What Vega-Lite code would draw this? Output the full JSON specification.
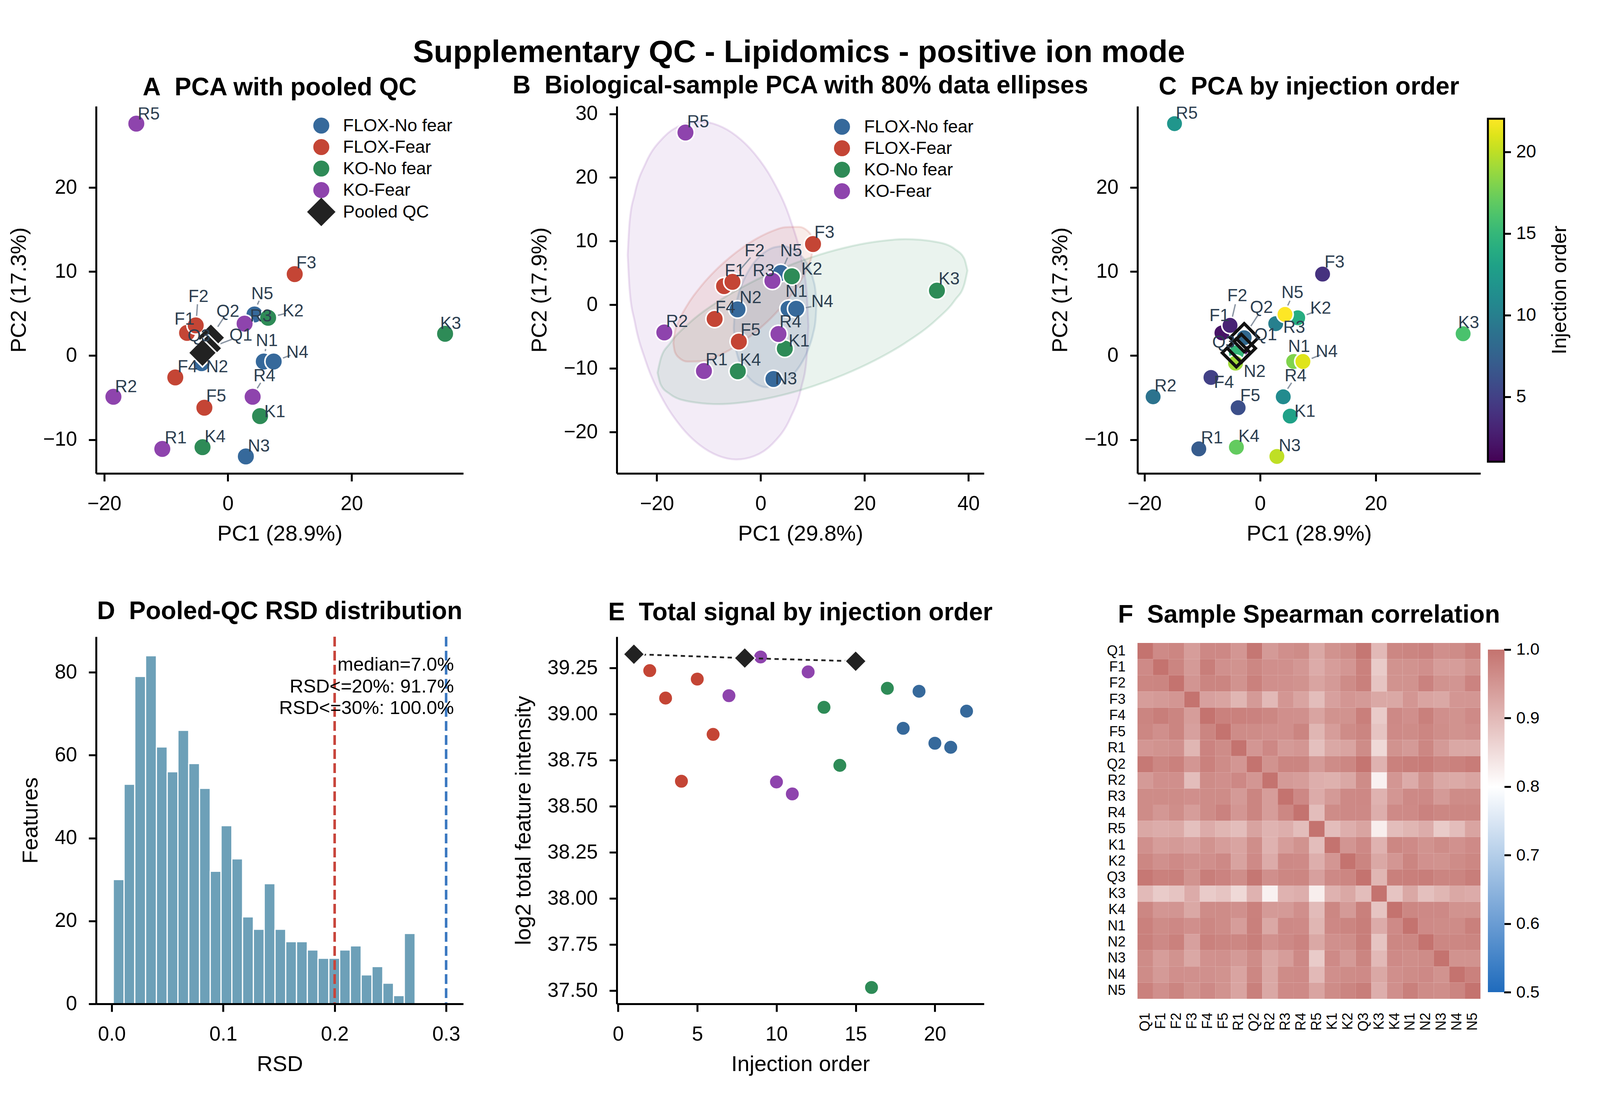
{
"$schema":"https://vega.github.io/schema/vega-lite/v6.json",
"description":"Supplementary QC panels for lipidomics positive ion mode",
"padding":{"left":20,"top":95,"right":100,"bottom":127},
"background":"white",
"title":{"text":"Supplementary QC - Lipidomics - positive ion mode","fontSize":80.5,"fontWeight":"bold","anchor":"middle","baseline":"alphabetic","offset":-52,"dx":26,"color":"black"},
"columns":3,
"bounds":"flush",
"spacing":{"row":418,"column":393},
"config":{
"font":"Liberation Sans",
"view":{"stroke":null},
"axis":{"grid":false,"domainColor":"black","domainWidth":5,"tickColor":"black","tickWidth":5,"labelFontSize":51.5,"labelColor":"black","titleFontSize":56,"titleColor":"black","titleFontWeight":"normal","labelFlush":false,"labelOverlap":false},
"axisX":{"titlePadding":24,"labelPadding":32,"tickSize":20},
"axisY":{"titlePadding":32,"labelPadding":30,"tickSize":19},
"legend":{"labelFontSize":45,"labelColor":"black","labelLimit":1000,"padding":0,"symbolStrokeColor":"white","symbolStrokeWidth":4,"symbolOpacity":1},
"title":{"fontSize":64,"fontWeight":"bold","anchor":"middle","baseline":"alphabetic","color":"black"}
},
"datasets":{
"pcaA":[
{"sample":"N1","group":"FLOX-No fear","pc1":5.8,"pc2":-0.7,"label_x":4.52,"label_y":1.12},
{"sample":"N2","group":"FLOX-No fear","pc1":-4.25,"pc2":-0.9,"label_x":-3.52,"label_y":-2.0},
{"sample":"N3","group":"FLOX-No fear","pc1":2.9,"pc2":-12.0,"label_x":3.22,"label_y":-11.42},
{"sample":"N4","group":"FLOX-No fear","pc1":7.4,"pc2":-0.7,"label_x":9.45,"label_y":-0.28},
{"sample":"N5","group":"FLOX-No fear","pc1":4.3,"pc2":4.9,"label_x":3.77,"label_y":6.73},
{"sample":"F1","group":"FLOX-Fear","pc1":-6.6,"pc2":2.7,"label_x":-8.64,"label_y":3.69},
{"sample":"F2","group":"FLOX-Fear","pc1":-5.2,"pc2":3.6,"label_x":-6.38,"label_y":6.37},
{"sample":"F3","group":"FLOX-Fear","pc1":10.8,"pc2":9.7,"label_x":11.05,"label_y":10.4},
{"sample":"F4","group":"FLOX-Fear","pc1":-8.5,"pc2":-2.6,"label_x":-8.14,"label_y":-2.0},
{"sample":"F5","group":"FLOX-Fear","pc1":-3.8,"pc2":-6.2,"label_x":-3.52,"label_y":-5.49},
{"sample":"K1","group":"KO-No fear","pc1":5.2,"pc2":-7.2,"label_x":5.88,"label_y":-7.33},
{"sample":"K2","group":"KO-No fear","pc1":6.5,"pc2":4.5,"label_x":8.84,"label_y":4.65},
{"sample":"K3","group":"KO-No fear","pc1":35.1,"pc2":2.6,"label_x":34.3,"label_y":3.2},
{"sample":"K4","group":"KO-No fear","pc1":-4.1,"pc2":-10.9,"label_x":-3.77,"label_y":-10.3},
{"sample":"R1","group":"KO-Fear","pc1":-10.6,"pc2":-11.1,"label_x":-10.2,"label_y":-10.46},
{"sample":"R2","group":"KO-Fear","pc1":-18.5,"pc2":-4.9,"label_x":-18.24,"label_y":-4.33},
{"sample":"R3","group":"KO-Fear","pc1":2.7,"pc2":3.8,"label_x":3.57,"label_y":4.05},
{"sample":"R4","group":"KO-Fear","pc1":4.0,"pc2":-4.9,"label_x":4.12,"label_y":-3.05},
{"sample":"R5","group":"KO-Fear","pc1":-14.8,"pc2":27.6,"label_x":-14.57,"label_y":28.1},
{"sample":"Q2","group":"Pooled QC","pc1":-2.75,"pc2":2.13,"label_x":-1.86,"label_y":4.61},
{"sample":"Q1","group":"Pooled QC","pc1":-3.24,"pc2":0.87,"label_x":0.25,"label_y":1.76},
{"sample":"Q3","group":"Pooled QC","pc1":-4.11,"pc2":0.33,"label_x":-6.53,"label_y":1.68}
],
"leadA":[
{"sample":"F2","x1":-4.92,"y1":6.11,"x2":-5.06,"y2":4.67},
{"sample":"Q2","x1":-0.67,"y1":4.51,"x2":-1.64,"y2":3.43},
{"sample":"Q1","x1":0.69,"y1":1.95,"x2":-1.23,"y2":1.41},
{"sample":"N5","x1":5.05,"y1":6.53,"x2":4.78,"y2":6.07},
{"sample":"K2","x1":9.4,"y1":5.03,"x2":8.09,"y2":4.79},
{"sample":"N1","x1":6.1,"y1":0.79,"x2":6.04,"y2":0.53},
{"sample":"N4","x1":10.11,"y1":0.05,"x2":8.9,"y2":-0.29},
{"sample":"R4","x1":5.29,"y1":-3.24,"x2":4.74,"y2":-3.89}
],
"pcaB":[
{"sample":"N1","group":"FLOX-No fear","pc1":5.37,"pc2":-0.63,"label_x":4.78,"label_y":1.25},
{"sample":"N2","group":"FLOX-No fear","pc1":-4.46,"pc2":-0.72,"label_x":-4.07,"label_y":0.29},
{"sample":"N3","group":"FLOX-No fear","pc1":2.46,"pc2":-11.66,"label_x":2.78,"label_y":-12.48},
{"sample":"N4","group":"FLOX-No fear","pc1":6.85,"pc2":-0.63,"label_x":9.76,"label_y":-0.34},
{"sample":"N5","group":"FLOX-No fear","pc1":3.88,"pc2":5.0,"label_x":3.75,"label_y":7.61},
{"sample":"F1","group":"FLOX-Fear","pc1":-7.05,"pc2":2.94,"label_x":-6.92,"label_y":4.48},
{"sample":"F2","group":"FLOX-Fear","pc1":-5.43,"pc2":3.61,"label_x":-3.1,"label_y":7.61},
{"sample":"F3","group":"FLOX-Fear","pc1":10.08,"pc2":9.54,"label_x":10.34,"label_y":10.5},
{"sample":"F4","group":"FLOX-Fear","pc1":-8.86,"pc2":-2.22,"label_x":-8.73,"label_y":-1.3},
{"sample":"F5","group":"FLOX-Fear","pc1":-4.2,"pc2":-5.78,"label_x":-3.88,"label_y":-4.82},
{"sample":"K1","group":"KO-No fear","pc1":4.65,"pc2":-6.89,"label_x":5.37,"label_y":-6.55},
{"sample":"K2","group":"KO-No fear","pc1":6.01,"pc2":4.48,"label_x":7.82,"label_y":4.72},
{"sample":"K3","group":"KO-No fear","pc1":33.94,"pc2":2.22,"label_x":34.26,"label_y":3.18},
{"sample":"K4","group":"KO-No fear","pc1":-4.4,"pc2":-10.45,"label_x":-4.0,"label_y":-9.54},
{"sample":"R1","group":"KO-Fear","pc1":-10.92,"pc2":-10.4,"label_x":-10.6,"label_y":-9.49},
{"sample":"R2","group":"KO-Fear","pc1":-18.55,"pc2":-4.34,"label_x":-18.23,"label_y":-3.47},
{"sample":"R3","group":"KO-Fear","pc1":2.26,"pc2":3.76,"label_x":-1.55,"label_y":4.48},
{"sample":"R4","group":"KO-Fear","pc1":3.43,"pc2":-4.58,"label_x":3.62,"label_y":-3.56},
{"sample":"R5","group":"KO-Fear","pc1":-14.48,"pc2":27.07,"label_x":-14.16,"label_y":27.89}
],
"leadB":[
{"sample":"F2","x1":-1.94,"y1":7.42,"x2":-4.14,"y2":5.35},
{"sample":"N5","x1":5.17,"y1":7.42,"x2":4.52,"y2":6.17},
{"sample":"N4","x1":9.76,"y1":-0.29,"x2":8.53,"y2":-0.48}
],
"ellipses":[
{"group":"KO-Fear","x":-25.6,"lo":7.83,"hi":7.83},{"group":"KO-Fear","x":-25.25,"lo":2.55,"hi":12.89},{"group":"KO-Fear","x":-24.21,"lo":-2.79,"hi":17.55},{"group":"KO-Fear","x":-22.12,"lo":-8.87,"hi":22.29},{"group":"KO-Fear","x":-18.64,"lo":-15.17,"hi":26.37},{"group":"KO-Fear","x":-15.16,"lo":-19.31,"hi":28.27},{"group":"KO-Fear","x":-11.68,"lo":-22.07,"hi":28.81},{"group":"KO-Fear","x":-8.2,"lo":-23.71,"hi":28.21},{"group":"KO-Fear","x":-4.72,"lo":-24.31,"hi":26.57},{"group":"KO-Fear","x":-1.24,"lo":-23.77,"hi":23.81},{"group":"KO-Fear","x":2.24,"lo":-21.87,"hi":19.67},{"group":"KO-Fear","x":5.72,"lo":-17.79,"hi":13.37},{"group":"KO-Fear","x":7.81,"lo":-13.05,"hi":7.29},{"group":"KO-Fear","x":8.85,"lo":-8.39,"hi":1.95},{"group":"KO-Fear","x":9.2,"lo":-3.33,"hi":-3.33},
{"group":"KO-No fear","x":-19.85,"lo":-10.68,"hi":-10.68},{"group":"KO-No fear","x":-19.25,"lo":-12.54,"hi":-8.5},{"group":"KO-No fear","x":-17.46,"lo":-14.03,"hi":-6.05},{"group":"KO-No fear","x":-13.88,"lo":-15.17,"hi":-2.97},{"group":"KO-No fear","x":-7.92,"lo":-15.61,"hi":0.67},{"group":"KO-No fear","x":-1.95,"lo":-15.18,"hi":3.46},{"group":"KO-No fear","x":4.01,"lo":-14.22,"hi":5.7},{"group":"KO-No fear","x":9.98,"lo":-12.82,"hi":7.52},{"group":"KO-No fear","x":15.95,"lo":-11.0,"hi":8.92},{"group":"KO-No fear","x":21.91,"lo":-8.76,"hi":9.88},{"group":"KO-No fear","x":27.88,"lo":-5.97,"hi":10.31},{"group":"KO-No fear","x":33.84,"lo":-2.33,"hi":9.87},{"group":"KO-No fear","x":37.42,"lo":0.75,"hi":8.73},{"group":"KO-No fear","x":39.21,"lo":3.2,"hi":7.24},{"group":"KO-No fear","x":39.81,"lo":5.38,"hi":5.38},
{"group":"FLOX-Fear","x":-16.81,"lo":-6.02,"hi":-6.02},{"group":"FLOX-Fear","x":-16.54,"lo":-7.34,"hi":-4.4},{"group":"FLOX-Fear","x":-15.73,"lo":-8.31,"hi":-2.51},{"group":"FLOX-Fear","x":-14.12,"lo":-8.92,"hi":-0.04},{"group":"FLOX-Fear","x":-11.43,"lo":-8.87,"hi":2.97},{"group":"FLOX-Fear","x":-8.74,"lo":-8.19,"hi":5.37},{"group":"FLOX-Fear","x":-6.05,"lo":-7.13,"hi":7.37},{"group":"FLOX-Fear","x":-3.36,"lo":-5.74,"hi":9.06},{"group":"FLOX-Fear","x":-0.67,"lo":-4.05,"hi":10.45},{"group":"FLOX-Fear","x":2.02,"lo":-2.05,"hi":11.51},{"group":"FLOX-Fear","x":4.71,"lo":0.35,"hi":12.19},{"group":"FLOX-Fear","x":7.4,"lo":3.36,"hi":12.24},{"group":"FLOX-Fear","x":9.01,"lo":5.83,"hi":11.63},{"group":"FLOX-Fear","x":9.82,"lo":7.72,"hi":10.66},{"group":"FLOX-Fear","x":10.09,"lo":9.34,"hi":9.34},
{"group":"FLOX-No fear","x":-5.17,"lo":-3.65,"hi":-3.65},{"group":"FLOX-No fear","x":-5.01,"lo":-5.79,"hi":-1.43},{"group":"FLOX-No fear","x":-4.53,"lo":-7.8,"hi":0.78},{"group":"FLOX-No fear","x":-3.58,"lo":-9.86,"hi":3.26},{"group":"FLOX-No fear","x":-1.99,"lo":-11.69,"hi":5.81},{"group":"FLOX-No fear","x":-0.4,"lo":-12.62,"hi":7.44},{"group":"FLOX-No fear","x":1.19,"lo":-12.95,"hi":8.49},{"group":"FLOX-No fear","x":2.78,"lo":-12.82,"hi":9.06},{"group":"FLOX-No fear","x":4.37,"lo":-12.25,"hi":9.19},{"group":"FLOX-No fear","x":5.96,"lo":-11.2,"hi":8.86},{"group":"FLOX-No fear","x":7.55,"lo":-9.57,"hi":7.93},{"group":"FLOX-No fear","x":9.14,"lo":-7.02,"hi":6.1},{"group":"FLOX-No fear","x":10.09,"lo":-4.54,"hi":4.04},{"group":"FLOX-No fear","x":10.57,"lo":-2.33,"hi":2.03},{"group":"FLOX-No fear","x":10.73,"lo":-0.11,"hi":-0.11}
],
"pcaC":[
{"sample":"Q1","order":1,"pc1":-3.24,"pc2":0.87,"label_x":-1.03,"label_y":1.82},
{"sample":"F1","order":2,"pc1":-6.6,"pc2":2.7,"label_x":-8.77,"label_y":4.09},
{"sample":"F2","order":3,"pc1":-5.2,"pc2":3.6,"label_x":-5.69,"label_y":6.5},
{"sample":"F3","order":4,"pc1":10.8,"pc2":9.7,"label_x":11.13,"label_y":10.47},
{"sample":"F4","order":5,"pc1":-8.5,"pc2":-2.6,"label_x":-7.99,"label_y":-3.83},
{"sample":"F5","order":6,"pc1":-3.8,"pc2":-6.2,"label_x":-3.45,"label_y":-5.44},
{"sample":"R1","order":7,"pc1":-10.6,"pc2":-11.1,"label_x":-10.22,"label_y":-10.44},
{"sample":"Q2","order":8,"pc1":-2.75,"pc2":2.13,"label_x":-1.75,"label_y":5.07},
{"sample":"R2","order":9,"pc1":-18.5,"pc2":-4.9,"label_x":-18.27,"label_y":-4.24},
{"sample":"R3","order":10,"pc1":2.7,"pc2":3.8,"label_x":3.99,"label_y":2.7},
{"sample":"R4","order":11,"pc1":4.0,"pc2":-4.9,"label_x":4.23,"label_y":-3.03},
{"sample":"R5","order":12,"pc1":-14.8,"pc2":27.6,"label_x":-14.58,"label_y":28.2},
{"sample":"K1","order":13,"pc1":5.2,"pc2":-7.2,"label_x":5.93,"label_y":-7.27},
{"sample":"K2","order":14,"pc1":6.5,"pc2":4.5,"label_x":8.65,"label_y":5.0},
{"sample":"Q3","order":15,"pc1":-4.11,"pc2":0.33,"label_x":-8.29,"label_y":0.95},
{"sample":"K3","order":16,"pc1":35.1,"pc2":2.6,"label_x":34.24,"label_y":3.29},
{"sample":"K4","order":17,"pc1":-4.1,"pc2":-10.9,"label_x":-3.75,"label_y":-10.26},
{"sample":"N1","order":18,"pc1":5.8,"pc2":-0.7,"label_x":4.84,"label_y":0.44},
{"sample":"N2","order":19,"pc1":-4.25,"pc2":-0.9,"label_x":-2.84,"label_y":-2.56},
{"sample":"N3","order":20,"pc1":2.9,"pc2":-12.0,"label_x":3.21,"label_y":-11.36},
{"sample":"N4","order":21,"pc1":7.4,"pc2":-0.7,"label_x":9.62,"label_y":-0.18},
{"sample":"N5","order":22,"pc1":4.3,"pc2":4.9,"label_x":3.69,"label_y":6.83}
],
"leadC":[
{"sample":"F2","x1":-4.28,"y1":6.11,"x2":-4.8,"y2":4.59},
{"sample":"Q2","x1":-0.4,"y1":4.78,"x2":-1.6,"y2":3.51},
{"sample":"N5","x1":5.16,"y1":6.53,"x2":4.78,"y2":5.96},
{"sample":"K2","x1":9.29,"y1":5.18,"x2":8.05,"y2":4.87},
{"sample":"N4","x1":10.39,"y1":0.07,"x2":8.92,"y2":-0.34},
{"sample":"R4","x1":5.44,"y1":-3.24,"x2":4.76,"y2":-3.94}
],
"hist":[
{"bin_start":0.0014,"bin_end":0.0111,"count":30},{"bin_start":0.0111,"bin_end":0.0207,"count":53},{"bin_start":0.0207,"bin_end":0.0304,"count":79},{"bin_start":0.0304,"bin_end":0.0401,"count":84},{"bin_start":0.0401,"bin_end":0.0498,"count":62},{"bin_start":0.0498,"bin_end":0.0594,"count":56},{"bin_start":0.0594,"bin_end":0.0691,"count":66},{"bin_start":0.0691,"bin_end":0.0788,"count":58},{"bin_start":0.0788,"bin_end":0.0884,"count":52},{"bin_start":0.0884,"bin_end":0.0981,"count":32},{"bin_start":0.0981,"bin_end":0.1078,"count":43},{"bin_start":0.1078,"bin_end":0.1174,"count":35},{"bin_start":0.1174,"bin_end":0.1271,"count":21},{"bin_start":0.1271,"bin_end":0.1368,"count":18},{"bin_start":0.1368,"bin_end":0.1465,"count":29},{"bin_start":0.1465,"bin_end":0.1561,"count":18},{"bin_start":0.1561,"bin_end":0.1658,"count":15},{"bin_start":0.1658,"bin_end":0.1755,"count":15},{"bin_start":0.1755,"bin_end":0.1851,"count":13},{"bin_start":0.1851,"bin_end":0.1948,"count":11},{"bin_start":0.1948,"bin_end":0.2045,"count":11},{"bin_start":0.2045,"bin_end":0.2141,"count":13},{"bin_start":0.2141,"bin_end":0.2238,"count":14},{"bin_start":0.2238,"bin_end":0.2335,"count":7},{"bin_start":0.2335,"bin_end":0.2432,"count":9},{"bin_start":0.2432,"bin_end":0.2528,"count":5},{"bin_start":0.2528,"bin_end":0.2625,"count":2},{"bin_start":0.2625,"bin_end":0.2722,"count":17}
],
"signal":[
{"sample":"Q1","group":"Pooled QC","order":1,"log2":39.325},{"sample":"F1","group":"FLOX-Fear","order":2,"log2":39.236},{"sample":"F2","group":"FLOX-Fear","order":3,"log2":39.087},{"sample":"F3","group":"FLOX-Fear","order":4,"log2":38.636},{"sample":"F4","group":"FLOX-Fear","order":5,"log2":39.19},{"sample":"F5","group":"FLOX-Fear","order":6,"log2":38.89},{"sample":"R1","group":"KO-Fear","order":7,"log2":39.1},{"sample":"Q2","group":"Pooled QC","order":8,"log2":39.304},{"sample":"R2","group":"KO-Fear","order":9,"log2":39.31},{"sample":"R3","group":"KO-Fear","order":10,"log2":38.632},{"sample":"R4","group":"KO-Fear","order":11,"log2":38.567},{"sample":"R5","group":"KO-Fear","order":12,"log2":39.229},{"sample":"K1","group":"KO-No fear","order":13,"log2":39.037},{"sample":"K2","group":"KO-No fear","order":14,"log2":38.722},{"sample":"Q3","group":"Pooled QC","order":15,"log2":39.287},{"sample":"K3","group":"KO-No fear","order":16,"log2":37.517},{"sample":"K4","group":"KO-No fear","order":17,"log2":39.14},{"sample":"N1","group":"FLOX-No fear","order":18,"log2":38.923},{"sample":"N2","group":"FLOX-No fear","order":19,"log2":39.124},{"sample":"N3","group":"FLOX-No fear","order":20,"log2":38.842},{"sample":"N4","group":"FLOX-No fear","order":21,"log2":38.82},{"sample":"N5","group":"FLOX-No fear","order":22,"log2":39.016}
],
"corr":[
{"a":"Q1","b":"Q1","r":1},{"a":"Q1","b":"F1","r":0.967},{"a":"Q1","b":"F2","r":0.973},{"a":"Q1","b":"F3","r":0.94},{"a":"Q1","b":"F4","r":0.97},{"a":"Q1","b":"F5","r":0.97},{"a":"Q1","b":"R1","r":0.95},{"a":"Q1","b":"Q2","r":0.995},{"a":"Q1","b":"R2","r":0.945},{"a":"Q1","b":"R3","r":0.96},{"a":"Q1","b":"R4","r":0.965},{"a":"Q1","b":"R5","r":0.925},{"a":"Q1","b":"K1","r":0.955},{"a":"Q1","b":"K2","r":0.965},{"a":"Q1","b":"Q3","r":0.995},{"a":"Q1","b":"K3","r":0.9},{"a":"Q1","b":"K4","r":0.972},{"a":"Q1","b":"N1","r":0.975},{"a":"Q1","b":"N2","r":0.978},{"a":"Q1","b":"N3","r":0.96},{"a":"Q1","b":"N4","r":0.965},{"a":"Q1","b":"N5","r":0.98},
{"a":"F1","b":"Q1","r":0.967},{"a":"F1","b":"F1","r":1},{"a":"F1","b":"F2","r":0.975},{"a":"F1","b":"F3","r":0.945},{"a":"F1","b":"F4","r":0.985},{"a":"F1","b":"F5","r":0.958},{"a":"F1","b":"R1","r":0.955},{"a":"F1","b":"Q2","r":0.972},{"a":"F1","b":"R2","r":0.96},{"a":"F1","b":"R3","r":0.958},{"a":"F1","b":"R4","r":0.948},{"a":"F1","b":"R5","r":0.92},{"a":"F1","b":"K1","r":0.94},{"a":"F1","b":"K2","r":0.95},{"a":"F1","b":"Q3","r":0.98},{"a":"F1","b":"K3","r":0.875},{"a":"F1","b":"K4","r":0.955},{"a":"F1","b":"N1","r":0.955},{"a":"F1","b":"N2","r":0.96},{"a":"F1","b":"N3","r":0.94},{"a":"F1","b":"N4","r":0.94},{"a":"F1","b":"N5","r":0.955},
{"a":"F2","b":"Q1","r":0.973},{"a":"F2","b":"F1","r":0.975},{"a":"F2","b":"F2","r":1},{"a":"F2","b":"F3","r":0.952},{"a":"F2","b":"F4","r":0.975},{"a":"F2","b":"F5","r":0.975},{"a":"F2","b":"R1","r":0.955},{"a":"F2","b":"Q2","r":0.98},{"a":"F2","b":"R2","r":0.96},{"a":"F2","b":"R3","r":0.958},{"a":"F2","b":"R4","r":0.955},{"a":"F2","b":"R5","r":0.93},{"a":"F2","b":"K1","r":0.945},{"a":"F2","b":"K2","r":0.965},{"a":"F2","b":"Q3","r":0.982},{"a":"F2","b":"K3","r":0.885},{"a":"F2","b":"K4","r":0.955},{"a":"F2","b":"N1","r":0.955},{"a":"F2","b":"N2","r":0.978},{"a":"F2","b":"N3","r":0.955},{"a":"F2","b":"N4","r":0.952},{"a":"F2","b":"N5","r":0.977},
{"a":"F3","b":"Q1","r":0.94},{"a":"F3","b":"F1","r":0.945},{"a":"F3","b":"F2","r":0.95},{"a":"F3","b":"F3","r":1},{"a":"F3","b":"F4","r":0.935},{"a":"F3","b":"F5","r":0.93},{"a":"F3","b":"R1","r":0.905},{"a":"F3","b":"Q2","r":0.945},{"a":"F3","b":"R2","r":0.9},{"a":"F3","b":"R3","r":0.95},{"a":"F3","b":"R4","r":0.93},{"a":"F3","b":"R5","r":0.895},{"a":"F3","b":"K1","r":0.935},{"a":"F3","b":"K2","r":0.95},{"a":"F3","b":"Q3","r":0.945},{"a":"F3","b":"K3","r":0.925},{"a":"F3","b":"K4","r":0.925},{"a":"F3","b":"N1","r":0.95},{"a":"F3","b":"N2","r":0.93},{"a":"F3","b":"N3","r":0.925},{"a":"F3","b":"N4","r":0.95},{"a":"F3","b":"N5","r":0.95},
{"a":"F4","b":"Q1","r":0.975},{"a":"F4","b":"F1","r":0.985},{"a":"F4","b":"F2","r":0.975},{"a":"F4","b":"F3","r":0.94},{"a":"F4","b":"F4","r":1},{"a":"F4","b":"F5","r":0.98},{"a":"F4","b":"R1","r":0.98},{"a":"F4","b":"Q2","r":0.978},{"a":"F4","b":"R2","r":0.972},{"a":"F4","b":"R3","r":0.96},{"a":"F4","b":"R4","r":0.958},{"a":"F4","b":"R5","r":0.93},{"a":"F4","b":"K1","r":0.955},{"a":"F4","b":"K2","r":0.955},{"a":"F4","b":"Q3","r":0.983},{"a":"F4","b":"K3","r":0.875},{"a":"F4","b":"K4","r":0.968},{"a":"F4","b":"N1","r":0.96},{"a":"F4","b":"N2","r":0.982},{"a":"F4","b":"N3","r":0.96},{"a":"F4","b":"N4","r":0.955},{"a":"F4","b":"N5","r":0.967},
{"a":"F5","b":"Q1","r":0.972},{"a":"F5","b":"F1","r":0.96},{"a":"F5","b":"F2","r":0.975},{"a":"F5","b":"F3","r":0.935},{"a":"F5","b":"F4","r":0.975},{"a":"F5","b":"F5","r":1},{"a":"F5","b":"R1","r":0.965},{"a":"F5","b":"Q2","r":0.965},{"a":"F5","b":"R2","r":0.96},{"a":"F5","b":"R3","r":0.96},{"a":"F5","b":"R4","r":0.975},{"a":"F5","b":"R5","r":0.905},{"a":"F5","b":"K1","r":0.94},{"a":"F5","b":"K2","r":0.965},{"a":"F5","b":"Q3","r":0.975},{"a":"F5","b":"K3","r":0.885},{"a":"F5","b":"K4","r":0.967},{"a":"F5","b":"N1","r":0.965},{"a":"F5","b":"N2","r":0.973},{"a":"F5","b":"N3","r":0.962},{"a":"F5","b":"N4","r":0.955},{"a":"F5","b":"N5","r":0.96},
{"a":"R1","b":"Q1","r":0.95},{"a":"R1","b":"F1","r":0.955},{"a":"R1","b":"F2","r":0.958},{"a":"R1","b":"F3","r":0.905},{"a":"R1","b":"F4","r":0.977},{"a":"R1","b":"F5","r":0.965},{"a":"R1","b":"R1","r":1},{"a":"R1","b":"Q2","r":0.95},{"a":"R1","b":"R2","r":0.97},{"a":"R1","b":"R3","r":0.945},{"a":"R1","b":"R4","r":0.95},{"a":"R1","b":"R5","r":0.89},{"a":"R1","b":"K1","r":0.925},{"a":"R1","b":"K2","r":0.93},{"a":"R1","b":"Q3","r":0.965},{"a":"R1","b":"K3","r":0.855},{"a":"R1","b":"K4","r":0.955},{"a":"R1","b":"N1","r":0.945},{"a":"R1","b":"N2","r":0.972},{"a":"R1","b":"N3","r":0.945},{"a":"R1","b":"N4","r":0.925},{"a":"R1","b":"N5","r":0.925},
{"a":"Q2","b":"Q1","r":0.992},{"a":"Q2","b":"F1","r":0.972},{"a":"Q2","b":"F2","r":0.98},{"a":"Q2","b":"F3","r":0.95},{"a":"Q2","b":"F4","r":0.98},{"a":"Q2","b":"F5","r":0.965},{"a":"Q2","b":"R1","r":0.95},{"a":"Q2","b":"Q2","r":1},{"a":"Q2","b":"R2","r":0.955},{"a":"Q2","b":"R3","r":0.975},{"a":"Q2","b":"R4","r":0.975},{"a":"Q2","b":"R5","r":0.945},{"a":"Q2","b":"K1","r":0.965},{"a":"Q2","b":"K2","r":0.972},{"a":"Q2","b":"Q3","r":0.997},{"a":"Q2","b":"K3","r":0.91},{"a":"Q2","b":"K4","r":0.98},{"a":"Q2","b":"N1","r":0.985},{"a":"Q2","b":"N2","r":0.987},{"a":"Q2","b":"N3","r":0.975},{"a":"Q2","b":"N4","r":0.98},{"a":"Q2","b":"N5","r":0.987},
{"a":"R2","b":"Q1","r":0.945},{"a":"R2","b":"F1","r":0.96},{"a":"R2","b":"F2","r":0.96},{"a":"R2","b":"F3","r":0.895},{"a":"R2","b":"F4","r":0.965},{"a":"R2","b":"F5","r":0.96},{"a":"R2","b":"R1","r":0.97},{"a":"R2","b":"Q2","r":0.95},{"a":"R2","b":"R2","r":1},{"a":"R2","b":"R3","r":0.945},{"a":"R2","b":"R4","r":0.94},{"a":"R2","b":"R5","r":0.915},{"a":"R2","b":"K1","r":0.912},{"a":"R2","b":"K2","r":0.925},{"a":"R2","b":"Q3","r":0.965},{"a":"R2","b":"K3","r":0.82},{"a":"R2","b":"K4","r":0.95},{"a":"R2","b":"N1","r":0.92},{"a":"R2","b":"N2","r":0.955},{"a":"R2","b":"N3","r":0.925},{"a":"R2","b":"N4","r":0.922},{"a":"R2","b":"N5","r":0.93},
{"a":"R3","b":"Q1","r":0.965},{"a":"R3","b":"F1","r":0.965},{"a":"R3","b":"F2","r":0.965},{"a":"R3","b":"F3","r":0.96},{"a":"R3","b":"F4","r":0.965},{"a":"R3","b":"F5","r":0.965},{"a":"R3","b":"R1","r":0.945},{"a":"R3","b":"Q2","r":0.975},{"a":"R3","b":"R2","r":0.94},{"a":"R3","b":"R3","r":1},{"a":"R3","b":"R4","r":0.97},{"a":"R3","b":"R5","r":0.92},{"a":"R3","b":"K1","r":0.945},{"a":"R3","b":"K2","r":0.968},{"a":"R3","b":"Q3","r":0.97},{"a":"R3","b":"K3","r":0.91},{"a":"R3","b":"K4","r":0.95},{"a":"R3","b":"N1","r":0.968},{"a":"R3","b":"N2","r":0.968},{"a":"R3","b":"N3","r":0.945},{"a":"R3","b":"N4","r":0.965},{"a":"R3","b":"N5","r":0.965},
{"a":"R4","b":"Q1","r":0.965},{"a":"R4","b":"F1","r":0.948},{"a":"R4","b":"F2","r":0.962},{"a":"R4","b":"F3","r":0.94},{"a":"R4","b":"F4","r":0.965},{"a":"R4","b":"F5","r":0.978},{"a":"R4","b":"R1","r":0.95},{"a":"R4","b":"Q2","r":0.975},{"a":"R4","b":"R2","r":0.94},{"a":"R4","b":"R3","r":0.972},{"a":"R4","b":"R4","r":1},{"a":"R4","b":"R5","r":0.895},{"a":"R4","b":"K1","r":0.965},{"a":"R4","b":"K2","r":0.968},{"a":"R4","b":"Q3","r":0.968},{"a":"R4","b":"K3","r":0.915},{"a":"R4","b":"K4","r":0.967},{"a":"R4","b":"N1","r":0.967},{"a":"R4","b":"N2","r":0.978},{"a":"R4","b":"N3","r":0.972},{"a":"R4","b":"N4","r":0.972},{"a":"R4","b":"N5","r":0.972},
{"a":"R5","b":"Q1","r":0.925},{"a":"R5","b":"F1","r":0.918},{"a":"R5","b":"F2","r":0.922},{"a":"R5","b":"F3","r":0.89},{"a":"R5","b":"F4","r":0.92},{"a":"R5","b":"F5","r":0.905},{"a":"R5","b":"R1","r":0.895},{"a":"R5","b":"Q2","r":0.932},{"a":"R5","b":"R2","r":0.908},{"a":"R5","b":"R3","r":0.915},{"a":"R5","b":"R4","r":0.895},{"a":"R5","b":"R5","r":1},{"a":"R5","b":"K1","r":0.895},{"a":"R5","b":"K2","r":0.915},{"a":"R5","b":"Q3","r":0.93},{"a":"R5","b":"K3","r":0.825},{"a":"R5","b":"K4","r":0.895},{"a":"R5","b":"N1","r":0.905},{"a":"R5","b":"N2","r":0.918},{"a":"R5","b":"N3","r":0.875},{"a":"R5","b":"N4","r":0.895},{"a":"R5","b":"N5","r":0.93},
{"a":"K1","b":"Q1","r":0.958},{"a":"K1","b":"F1","r":0.94},{"a":"K1","b":"F2","r":0.945},{"a":"K1","b":"F3","r":0.935},{"a":"K1","b":"F4","r":0.955},{"a":"K1","b":"F5","r":0.94},{"a":"K1","b":"R1","r":0.93},{"a":"K1","b":"Q2","r":0.962},{"a":"K1","b":"R2","r":0.91},{"a":"K1","b":"R3","r":0.94},{"a":"K1","b":"R4","r":0.955},{"a":"K1","b":"R5","r":0.895},{"a":"K1","b":"K1","r":1},{"a":"K1","b":"K2","r":0.952},{"a":"K1","b":"Q3","r":0.97},{"a":"K1","b":"K3","r":0.91},{"a":"K1","b":"K4","r":0.972},{"a":"K1","b":"N1","r":0.967},{"a":"K1","b":"N2","r":0.955},{"a":"K1","b":"N3","r":0.965},{"a":"K1","b":"N4","r":0.957},{"a":"K1","b":"N5","r":0.967},
{"a":"K2","b":"Q1","r":0.972},{"a":"K2","b":"F1","r":0.958},{"a":"K2","b":"F2","r":0.967},{"a":"K2","b":"F3","r":0.958},{"a":"K2","b":"F4","r":0.96},{"a":"K2","b":"F5","r":0.968},{"a":"K2","b":"R1","r":0.932},{"a":"K2","b":"Q2","r":0.967},{"a":"K2","b":"R2","r":0.92},{"a":"K2","b":"R3","r":0.968},{"a":"K2","b":"R4","r":0.967},{"a":"K2","b":"R5","r":0.915},{"a":"K2","b":"K1","r":0.95},{"a":"K2","b":"K2","r":1},{"a":"K2","b":"Q3","r":0.975},{"a":"K2","b":"K3","r":0.925},{"a":"K2","b":"K4","r":0.95},{"a":"K2","b":"N1","r":0.975},{"a":"K2","b":"N2","r":0.957},{"a":"K2","b":"N3","r":0.955},{"a":"K2","b":"N4","r":0.965},{"a":"K2","b":"N5","r":0.972},
{"a":"Q3","b":"Q1","r":0.993},{"a":"Q3","b":"F1","r":0.98},{"a":"Q3","b":"F2","r":0.982},{"a":"Q3","b":"F3","r":0.955},{"a":"Q3","b":"F4","r":0.985},{"a":"Q3","b":"F5","r":0.977},{"a":"Q3","b":"R1","r":0.962},{"a":"Q3","b":"Q2","r":0.995},{"a":"Q3","b":"R2","r":0.96},{"a":"Q3","b":"R3","r":0.972},{"a":"Q3","b":"R4","r":0.973},{"a":"Q3","b":"R5","r":0.935},{"a":"Q3","b":"K1","r":0.968},{"a":"Q3","b":"K2","r":0.973},{"a":"Q3","b":"Q3","r":1},{"a":"Q3","b":"K3","r":0.905},{"a":"Q3","b":"K4","r":0.982},{"a":"Q3","b":"N1","r":0.983},{"a":"Q3","b":"N2","r":0.985},{"a":"Q3","b":"N3","r":0.975},{"a":"Q3","b":"N4","r":0.975},{"a":"Q3","b":"N5","r":0.985},
{"a":"K3","b":"Q1","r":0.898},{"a":"K3","b":"F1","r":0.875},{"a":"K3","b":"F2","r":0.885},{"a":"K3","b":"F3","r":0.92},{"a":"K3","b":"F4","r":0.875},{"a":"K3","b":"F5","r":0.885},{"a":"K3","b":"R1","r":0.855},{"a":"K3","b":"Q2","r":0.91},{"a":"K3","b":"R2","r":0.82},{"a":"K3","b":"R3","r":0.91},{"a":"K3","b":"R4","r":0.915},{"a":"K3","b":"R5","r":0.825},{"a":"K3","b":"K1","r":0.91},{"a":"K3","b":"K2","r":0.925},{"a":"K3","b":"Q3","r":0.895},{"a":"K3","b":"K3","r":1},{"a":"K3","b":"K4","r":0.885},{"a":"K3","b":"N1","r":0.925},{"a":"K3","b":"N2","r":0.89},{"a":"K3","b":"N3","r":0.905},{"a":"K3","b":"N4","r":0.925},{"a":"K3","b":"N5","r":0.92},
{"a":"K4","b":"Q1","r":0.972},{"a":"K4","b":"F1","r":0.95},{"a":"K4","b":"F2","r":0.952},{"a":"K4","b":"F3","r":0.925},{"a":"K4","b":"F4","r":0.965},{"a":"K4","b":"F5","r":0.965},{"a":"K4","b":"R1","r":0.958},{"a":"K4","b":"Q2","r":0.98},{"a":"K4","b":"R2","r":0.945},{"a":"K4","b":"R3","r":0.945},{"a":"K4","b":"R4","r":0.96},{"a":"K4","b":"R5","r":0.897},{"a":"K4","b":"K1","r":0.972},{"a":"K4","b":"K2","r":0.945},{"a":"K4","b":"Q3","r":0.982},{"a":"K4","b":"K3","r":0.885},{"a":"K4","b":"K4","r":1},{"a":"K4","b":"N1","r":0.972},{"a":"K4","b":"N2","r":0.968},{"a":"K4","b":"N3","r":0.968},{"a":"K4","b":"N4","r":0.955},{"a":"K4","b":"N5","r":0.955},
{"a":"N1","b":"Q1","r":0.98},{"a":"N1","b":"F1","r":0.965},{"a":"N1","b":"F2","r":0.97},{"a":"N1","b":"F3","r":0.96},{"a":"N1","b":"F4","r":0.972},{"a":"N1","b":"F5","r":0.965},{"a":"N1","b":"R1","r":0.94},{"a":"N1","b":"Q2","r":0.982},{"a":"N1","b":"R2","r":0.925},{"a":"N1","b":"R3","r":0.968},{"a":"N1","b":"R4","r":0.967},{"a":"N1","b":"R5","r":0.905},{"a":"N1","b":"K1","r":0.97},{"a":"N1","b":"K2","r":0.975},{"a":"N1","b":"Q3","r":0.985},{"a":"N1","b":"K3","r":0.92},{"a":"N1","b":"K4","r":0.967},{"a":"N1","b":"N1","r":1},{"a":"N1","b":"N2","r":0.967},{"a":"N1","b":"N3","r":0.965},{"a":"N1","b":"N4","r":0.965},{"a":"N1","b":"N5","r":0.982},
{"a":"N2","b":"Q1","r":0.982},{"a":"N2","b":"F1","r":0.968},{"a":"N2","b":"F2","r":0.98},{"a":"N2","b":"F3","r":0.935},{"a":"N2","b":"F4","r":0.98},{"a":"N2","b":"F5","r":0.975},{"a":"N2","b":"R1","r":0.972},{"a":"N2","b":"Q2","r":0.985},{"a":"N2","b":"R2","r":0.957},{"a":"N2","b":"R3","r":0.968},{"a":"N2","b":"R4","r":0.977},{"a":"N2","b":"R5","r":0.925},{"a":"N2","b":"K1","r":0.958},{"a":"N2","b":"K2","r":0.962},{"a":"N2","b":"Q3","r":0.985},{"a":"N2","b":"K3","r":0.885},{"a":"N2","b":"K4","r":0.972},{"a":"N2","b":"N1","r":0.972},{"a":"N2","b":"N2","r":1},{"a":"N2","b":"N3","r":0.972},{"a":"N2","b":"N4","r":0.972},{"a":"N2","b":"N5","r":0.975},
{"a":"N3","b":"Q1","r":0.965},{"a":"N3","b":"F1","r":0.94},{"a":"N3","b":"F2","r":0.955},{"a":"N3","b":"F3","r":0.925},{"a":"N3","b":"F4","r":0.957},{"a":"N3","b":"F5","r":0.958},{"a":"N3","b":"R1","r":0.945},{"a":"N3","b":"Q2","r":0.965},{"a":"N3","b":"R2","r":0.925},{"a":"N3","b":"R3","r":0.94},{"a":"N3","b":"R4","r":0.968},{"a":"N3","b":"R5","r":0.875},{"a":"N3","b":"K1","r":0.967},{"a":"N3","b":"K2","r":0.945},{"a":"N3","b":"Q3","r":0.975},{"a":"N3","b":"K3","r":0.9},{"a":"N3","b":"K4","r":0.967},{"a":"N3","b":"N1","r":0.962},{"a":"N3","b":"N2","r":0.965},{"a":"N3","b":"N3","r":1},{"a":"N3","b":"N4","r":0.955},{"a":"N3","b":"N5","r":0.955},
{"a":"N4","b":"Q1","r":0.965},{"a":"N4","b":"F1","r":0.945},{"a":"N4","b":"F2","r":0.96},{"a":"N4","b":"F3","r":0.958},{"a":"N4","b":"F4","r":0.958},{"a":"N4","b":"F5","r":0.955},{"a":"N4","b":"R1","r":0.93},{"a":"N4","b":"Q2","r":0.972},{"a":"N4","b":"R2","r":0.925},{"a":"N4","b":"R3","r":0.965},{"a":"N4","b":"R4","r":0.967},{"a":"N4","b":"R5","r":0.9},{"a":"N4","b":"K1","r":0.96},{"a":"N4","b":"K2","r":0.965},{"a":"N4","b":"Q3","r":0.967},{"a":"N4","b":"K3","r":0.925},{"a":"N4","b":"K4","r":0.96},{"a":"N4","b":"N1","r":0.965},{"a":"N4","b":"N2","r":0.968},{"a":"N4","b":"N3","r":0.955},{"a":"N4","b":"N4","r":1},{"a":"N4","b":"N5","r":0.98},
{"a":"N5","b":"Q1","r":0.98},{"a":"N5","b":"F1","r":0.96},{"a":"N5","b":"F2","r":0.975},{"a":"N5","b":"F3","r":0.955},{"a":"N5","b":"F4","r":0.968},{"a":"N5","b":"F5","r":0.955},{"a":"N5","b":"R1","r":0.93},{"a":"N5","b":"Q2","r":0.982},{"a":"N5","b":"R2","r":0.925},{"a":"N5","b":"R3","r":0.967},{"a":"N5","b":"R4","r":0.967},{"a":"N5","b":"R5","r":0.93},{"a":"N5","b":"K1","r":0.965},{"a":"N5","b":"K2","r":0.975},{"a":"N5","b":"Q3","r":0.985},{"a":"N5","b":"K3","r":0.915},{"a":"N5","b":"K4","r":0.96},{"a":"N5","b":"N1","r":0.982},{"a":"N5","b":"N2","r":0.965},{"a":"N5","b":"N3","r":0.962},{"a":"N5","b":"N4","r":0.975},{"a":"N5","b":"N5","r":1}
]
},
"concat":[
{
"width":940,"height":940,
"title":{"text":"A\u00a0\u00a0PCA with pooled QC","offset":14},
"layer":[
{"mark":{"type":"rule","color":"#d5dae2","strokeWidth":5},"encoding":{"x":{"datum":0,"type":"quantitative","scale":{"domain":[-21.3,38.04],"nice":false,"zero":false},"axis":{"values":[-20,0,20],"title":"PC1 (28.9%)"}}}},
{"mark":{"type":"rule","color":"#d5dae2","strokeWidth":5},"encoding":{"y":{"datum":0,"type":"quantitative","scale":{"domain":[-14.02,29.67],"nice":false,"zero":false},"axis":{"values":[-10,0,10,20],"title":"PC2 (17.3%)"}}}},
{"data":{"name":"leadA"},"mark":{"type":"rule","color":"#8a95a3","strokeWidth":3.5},"encoding":{"x":{"field":"x1","type":"quantitative"},"y":{"field":"y1","type":"quantitative"},"x2":{"field":"x2"},"y2":{"field":"y2"}}},
{"data":{"name":"pcaA"},"transform":[{"filter":"datum.group != 'Pooled QC'"}],"mark":{"type":"point","filled":true,"opacity":1,"stroke":"white","strokeWidth":4,"size":2025},"encoding":{
"x":{"field":"pc1","type":"quantitative"},
"y":{"field":"pc2","type":"quantitative"},
"color":{"field":"group","type":"nominal","scale":{"domain":["FLOX-No fear","FLOX-Fear","KO-No fear","KO-Fear"],"range":["#36699b","#c44535","#2e8b57","#8e44ad"]},"legend":{"title":null,"orient":"none","legendX":552,"legendY":25,"rowPadding":-7,"labelOffset":31,"symbolType":"circle","symbolSize":2025}}
}},
{"data":{"name":"pcaA"},"transform":[{"filter":"datum.group == 'Pooled QC'"}],"mark":{"type":"point","filled":true,"opacity":1,"color":"#222222","stroke":"white","strokeWidth":4,"size":5300},"encoding":{
"x":{"field":"pc1","type":"quantitative"},
"y":{"field":"pc2","type":"quantitative"},
"shape":{"field":"group","type":"nominal","scale":{"domain":["Pooled QC"],"range":["diamond"]},"legend":{"title":null,"orient":"none","legendX":538,"legendY":232,"labelOffset":17,"symbolSize":5300,"symbolFillColor":"#222222"}}
}},
{"data":{"name":"pcaA"},"mark":{"type":"text","align":"left","baseline":"alphabetic","fontSize":44,"color":"#2c3e50"},"encoding":{"x":{"field":"label_x","type":"quantitative"},"y":{"field":"label_y","type":"quantitative"},"text":{"field":"sample"}}}
]
},
{
"width":940,"height":940,
"title":{"text":"B\u00a0\u00a0Biological-sample PCA with 80% data ellipses","offset":14},
"layer":[
{"data":{"name":"ellipses"},"mark":{"type":"area","interpolate":"monotone","fillOpacity":0.1,"strokeOpacity":0.16,"strokeWidth":5},"encoding":{
"x":{"field":"x","type":"quantitative","scale":{"domain":[-27.7,43.0],"nice":false,"zero":false},"axis":{"values":[-20,0,20,40],"title":"PC1 (29.8%)"}},
"y":{"field":"lo","type":"quantitative","scale":{"domain":[-26.5,31.2],"nice":false,"zero":false},"axis":{"values":[-20,-10,0,10,20,30],"title":"PC2 (17.9%)"}},
"y2":{"field":"hi"},
"color":{"field":"group","type":"nominal","scale":{"domain":["FLOX-No fear","FLOX-Fear","KO-No fear","KO-Fear"],"range":["#36699b","#c44535","#2e8b57","#8e44ad"]},"legend":{"title":null,"orient":"none","legendX":552,"legendY":28,"rowPadding":-7,"labelOffset":32,"symbolType":"circle","symbolSize":2025}},
"stroke":{"field":"group","type":"nominal","scale":{"domain":["FLOX-No fear","FLOX-Fear","KO-No fear","KO-Fear"],"range":["#36699b","#c44535","#2e8b57","#8e44ad"]},"legend":null}
}},
{"mark":{"type":"rule","color":"#c4cad6","strokeWidth":5,"opacity":0.7},"encoding":{"x":{"datum":0,"type":"quantitative"}}},
{"mark":{"type":"rule","color":"#c4cad6","strokeWidth":5,"opacity":0.7},"encoding":{"y":{"datum":0,"type":"quantitative"}}},
{"data":{"name":"leadB"},"mark":{"type":"rule","color":"#8a95a3","strokeWidth":3.5},"encoding":{"x":{"field":"x1","type":"quantitative"},"y":{"field":"y1","type":"quantitative"},"x2":{"field":"x2"},"y2":{"field":"y2"}}},
{"data":{"name":"pcaB"},"mark":{"type":"point","filled":true,"opacity":1,"stroke":"white","strokeWidth":4,"size":2025},"encoding":{
"x":{"field":"pc1","type":"quantitative"},
"y":{"field":"pc2","type":"quantitative"},
"color":{"field":"group","type":"nominal"}
}},
{"data":{"name":"pcaB"},"mark":{"type":"text","align":"left","baseline":"alphabetic","fontSize":44,"color":"#2c3e50"},"encoding":{"x":{"field":"label_x","type":"quantitative"},"y":{"field":"label_y","type":"quantitative"},"text":{"field":"sample"}}}
]
},
{
"width":878,"height":940,
"title":{"text":"C\u00a0\u00a0PCA by injection order","offset":14},
"layer":[
{"layer":[
{"mark":{"type":"rule","color":"#d5dae2","strokeWidth":5},"encoding":{"x":{"datum":0,"type":"quantitative","scale":{"domain":[-21.2,38.1],"nice":false,"zero":false},"axis":{"values":[-20,0,20],"title":"PC1 (28.9%)"}}}},
{"mark":{"type":"rule","color":"#d5dae2","strokeWidth":5},"encoding":{"y":{"datum":0,"type":"quantitative","scale":{"domain":[-14.02,29.67],"nice":false,"zero":false},"axis":{"values":[-10,0,10,20],"title":"PC2 (17.3%)"}}}},
{"data":{"name":"leadC"},"mark":{"type":"rule","color":"#8a95a3","strokeWidth":3.5},"encoding":{"x":{"field":"x1","type":"quantitative"},"y":{"field":"y1","type":"quantitative"},"x2":{"field":"x2"},"y2":{"field":"y2"}}},
{"data":{"name":"pcaC"},"mark":{"type":"point","filled":true,"opacity":1,"stroke":"white","strokeWidth":4,"size":1780},"encoding":{
"x":{"field":"pc1","type":"quantitative"},
"y":{"field":"pc2","type":"quantitative"},
"color":{"field":"order","type":"quantitative","scale":{"scheme":"viridis","domain":[1,22]},"legend":{"type":"gradient","title":null,"orient":"none","legendX":897,"legendY":32,"gradientLength":878,"gradientThickness":41.5,"gradientStrokeColor":"black","gradientStrokeWidth":5,"labelExpr":"''","values":[5,10,15,20]}}
}},
{"data":{"name":"pcaC"},"transform":[{"filter":"datum.sample[0] == 'Q'"}],"mark":{"type":"point","shape":"diamond","filled":false,"opacity":1,"stroke":"#111111","strokeWidth":8,"size":5200},"encoding":{"x":{"field":"pc1","type":"quantitative"},"y":{"field":"pc2","type":"quantitative"}}},
{"data":{"name":"pcaC"},"mark":{"type":"text","align":"left","baseline":"alphabetic","fontSize":44,"color":"#2c3e50"},"encoding":{"x":{"field":"label_x","type":"quantitative"},"y":{"field":"label_y","type":"quantitative"},"text":{"field":"sample"}}}
]},
{"data":{"name":"pcaC"},"mark":{"type":"point","opacity":0},"encoding":{
"x":{"field":"pc1","type":"quantitative"},
"y":{"field":"order","type":"quantitative","scale":{"domain":[0.306,22.79],"nice":false,"zero":false},"axis":{"orient":"right","offset":60,"domain":false,"values":[5,10,15,20],"title":"Injection order","titleAngle":270,"titleFontSize":52,"titlePadding":87,"labelFontSize":46,"labelPadding":13.5,"tickSize":17.5}}
}}
],
"resolve":{"scale":{"y":"independent"},"axis":{"y":"independent"}}
},
{
"width":940,"height":940,
"title":{"text":"D\u00a0\u00a0Pooled-QC RSD distribution","offset":29},
"layer":[
{"data":{"name":"hist"},"mark":{"type":"bar","color":"#6da0b8","stroke":"white","strokeWidth":3},"encoding":{
"x":{"field":"bin_start","type":"quantitative","scale":{"domain":[-0.014,0.3154],"nice":false,"zero":false},"axis":{"values":[0,0.1,0.2,0.3],"format":".1f","title":"RSD","zindex":1}},
"x2":{"field":"bin_end"},
"y":{"field":"count","type":"quantitative","scale":{"domain":[0,88.6],"nice":false},"axis":{"values":[0,20,40,60,80],"title":"Features"}},
"y2":{"datum":0}
}},
{"data":{"values":[{"rsd":0.2,"cut":"20%"},{"rsd":0.3,"cut":"30%"}]},"mark":{"type":"rule","strokeWidth":6.5,"strokeDash":[25,11]},"encoding":{"x":{"field":"rsd","type":"quantitative"},"color":{"field":"cut","type":"nominal","scale":{"domain":["20%","30%"],"range":["#c8443a","#3a78c0"]},"legend":null}}},
{"data":{"values":[{"line":"median=7.0%","x":0.307,"y":80.4},{"line":"RSD<=20%: 91.7%","x":0.307,"y":75.1},{"line":"RSD<=30%: 100.0%","x":0.307,"y":69.9}]},"mark":{"type":"text","align":"right","baseline":"alphabetic","fontSize":48.5,"color":"black"},"encoding":{"x":{"field":"x","type":"quantitative"},"y":{"field":"y","type":"quantitative"},"text":{"field":"line"}}}
]
},
{
"width":940,"height":940,
"title":{"text":"E\u00a0\u00a0Total signal by injection order","offset":29},
"data":{"name":"signal"},
"layer":[
{"transform":[{"filter":"datum.group != 'Pooled QC'"}],"mark":{"type":"point","filled":true,"opacity":1,"stroke":"white","strokeWidth":3,"size":1300},"encoding":{
"x":{"field":"order","type":"quantitative","scale":{"domain":[-0.08,23.1],"nice":false,"zero":false},"axis":{"values":[0,5,10,15,20],"title":"Injection order"}},
"y":{"field":"log2","type":"quantitative","scale":{"domain":[37.428,39.42],"nice":false,"zero":false},"axis":{"values":[37.5,37.75,38,38.25,38.5,38.75,39,39.25],"format":".2f","title":"log2 total feature intensity"}},
"color":{"field":"group","type":"nominal","scale":{"domain":["FLOX-No fear","FLOX-Fear","KO-No fear","KO-Fear"],"range":["#36699b","#c44535","#2e8b57","#8e44ad"]},"legend":null}
}},
{"transform":[{"filter":"datum.group == 'Pooled QC'"}],"mark":{"type":"line","color":"#222222","strokeWidth":4.5,"strokeDash":[11,9]},"encoding":{"x":{"field":"order","type":"quantitative"},"y":{"field":"log2","type":"quantitative"}}},
{"transform":[{"filter":"datum.group == 'Pooled QC'"}],"mark":{"type":"point","shape":"diamond","filled":true,"opacity":1,"color":"#222222","stroke":"white","strokeWidth":3,"size":2900},"encoding":{"x":{"field":"order","type":"quantitative"},"y":{"field":"log2","type":"quantitative"}}}
]
},
{
"width":878,"height":940,
"title":{"text":"F\u00a0\u00a0Sample Spearman correlation","offset":23},
"layer":[
{"data":{"name":"corr"},"mark":{"type":"rect"},"encoding":{
"x":{"field":"b","type":"nominal","scale":{"domain":["Q1","F1","F2","F3","F4","F5","R1","Q2","R2","R3","R4","R5","K1","K2","Q3","K3","K4","N1","N2","N3","N4","N5"],"paddingInner":0,"paddingOuter":0},"axis":{"title":null,"domain":false,"ticks":false,"labelAngle":270,"labelAlign":"right","labelBaseline":"middle","labelFontSize":36,"labelPadding":22}},
"y":{"field":"a","type":"nominal","scale":{"domain":["Q1","F1","F2","F3","F4","F5","R1","Q2","R2","R3","R4","R5","K1","K2","Q3","K3","K4","N1","N2","N3","N4","N5"],"paddingInner":0,"paddingOuter":0.35,"align":0.55},"axis":{"title":null,"domain":false,"ticks":false,"labelFontSize":36,"labelPadding":31}},
"color":{"field":"r","type":"quantitative","scale":{"domain":[0.5,0.8,1],"range":["#1f6bbd","#ffffff","#c4736f"],"interpolate":"rgb"},"legend":{"type":"gradient","title":null,"orient":"none","legendX":897,"legendY":33,"gradientLength":877,"gradientThickness":42.5,"gradientStrokeWidth":0,"labelExpr":"''","values":[0.5,0.6,0.7,0.8,0.9,1]}}
}},
{"data":{"name":"corr"},"mark":{"type":"point","opacity":0},"encoding":{
"x":{"field":"b","type":"nominal"},
"y":{"field":"r","type":"quantitative","scale":{"domain":[0.4829,1.0188],"nice":false,"zero":false},"axis":{"orient":"right","offset":60,"domain":false,"values":[0.5,0.6,0.7,0.8,0.9,1],"format":".1f","title":null,"labelFontSize":43,"labelPadding":13.5,"tickSize":17.5}}
}}
],
"resolve":{"scale":{"y":"independent"},"axis":{"y":"independent"}}
}
]
}
